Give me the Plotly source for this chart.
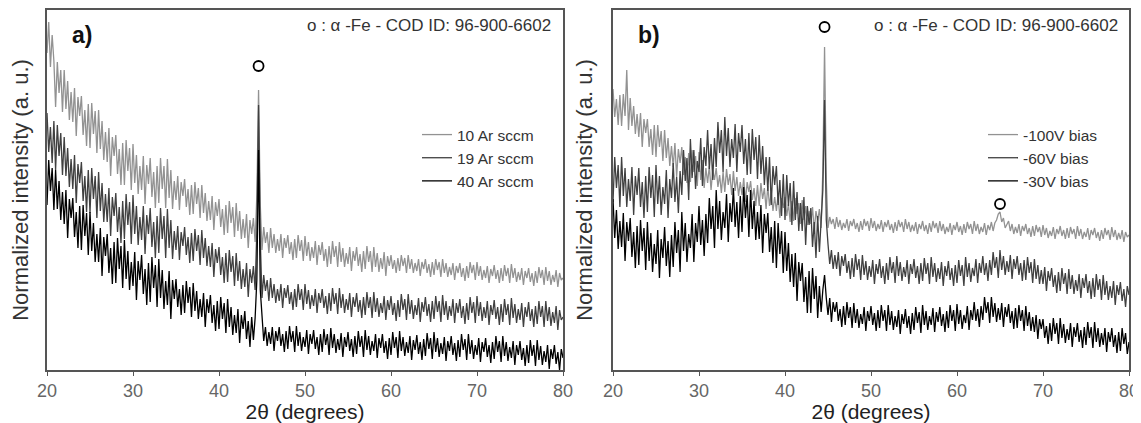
import plotly.graph_objects as go

# Scan positions: 2-theta in degrees, 0.2 deg steps from 20 to 80
two_theta = [round(20 + 0.2 * i, 1) for i in range(301)]

# ---------- Panel a: Ar flow series (normalized intensity, arbitrary units) ----------
ar10 = [
    317, 348, 303, 335, 309, 263, 308, 277, 300, 258, 300, 261, 289, 250, 278,
    248, 282, 234, 273, 254, 274, 235, 260, 224, 266, 222, 267, 236, 259, 217,
    260, 221, 249, 210, 238, 208, 242, 194, 233, 214, 235, 196, 221, 185, 227,
    185, 230, 199, 222, 180, 226, 187, 215, 176, 204, 180, 214, 166, 205, 186,
    212, 173, 198, 162, 204, 167, 212, 181, 204, 162, 211, 172, 200, 161, 189,
    170, 194, 160, 188, 174, 191, 163, 181, 155, 185, 156, 188, 166, 182, 152,
    185, 157, 177, 149, 169, 150, 174, 140, 168, 154, 171, 143, 161, 135, 165,
    137, 169, 147, 163, 133, 167, 139, 159, 131, 151, 132, 156, 122, 150, 136,
    152, 128, 175, 280, 165, 120, 143, 127, 138, 117, 142, 122, 136, 117, 131,
    119, 136, 112, 132, 122, 135, 116, 128, 110, 131, 112, 135, 119, 130, 109,
    134, 114, 128, 109, 123, 112, 129, 105, 125, 115, 128, 109, 121, 103, 124,
    106, 129, 113, 124, 103, 128, 108, 122, 103, 117, 106, 123, 99, 119, 109,
    123, 104, 116, 98, 119, 101, 124, 108, 119, 98, 123, 103, 117, 98, 112,
    101, 118, 94, 114, 104, 115, 101, 110, 97, 112, 99, 115, 104, 112, 97,
    115, 101, 111, 97, 107, 99, 111, 94, 108, 101, 111, 97, 106, 93, 108,
    95, 111, 100, 108, 93, 111, 97, 107, 93, 103, 95, 107, 90, 104, 97,
    107, 93, 102, 89, 104, 92, 108, 97, 105, 90, 108, 94, 104, 90, 100,
    92, 104, 87, 101, 94, 105, 91, 100, 87, 102, 89, 105, 94, 102, 87,
    106, 92, 102, 88, 98, 90, 102, 85, 99, 92, 102, 88, 97, 84, 99,
    87, 103, 92, 100, 85, 103, 89, 99, 85, 95, 88, 100, 83, 97, 90,
    92,
]
ar19 = [
    257, 218, 243, 207, 249, 200, 245, 214, 237, 195, 233, 194, 222, 183, 211,
    181, 215, 167, 206, 187, 208, 169, 194, 158, 200, 157, 202, 171, 194, 152,
    198, 159, 187, 148, 176, 148, 182, 134, 173, 154, 177, 138, 163, 127, 169,
    131, 176, 145, 168, 126, 175, 136, 164, 125, 153, 130, 164, 116, 155, 136,
    162, 123, 148, 112, 154, 117, 162, 131, 154, 112, 161, 122, 150, 111, 139,
    120, 144, 110, 138, 124, 143, 115, 133, 107, 137, 109, 141, 119, 135, 105,
    140, 112, 132, 104, 124, 103, 127, 93, 121, 107, 123, 95, 113, 87, 117,
    88, 120, 98, 114, 84, 117, 89, 109, 81, 101, 83, 107, 73, 101, 87,
    104, 80, 140, 265, 130, 72, 95, 79, 90, 69, 92, 72, 86, 67, 81,
    69, 86, 62, 82, 72, 85, 66, 78, 60, 81, 63, 86, 70, 81, 60,
    86, 66, 80, 61, 75, 64, 81, 57, 77, 67, 81, 62, 74, 56, 77,
    59, 82, 66, 77, 56, 82, 62, 76, 57, 71, 60, 77, 53, 73, 63,
    77, 58, 70, 52, 73, 55, 78, 62, 73, 52, 78, 58, 72, 53, 67,
    57, 74, 50, 70, 60, 74, 55, 67, 49, 70, 53, 76, 60, 71, 50,
    76, 56, 70, 51, 65, 55, 72, 48, 68, 58, 73, 54, 66, 48, 69,
    51, 74, 58, 69, 48, 75, 55, 69, 50, 64, 54, 71, 47, 67, 57,
    71, 52, 64, 46, 67, 50, 73, 57, 68, 47, 74, 54, 68, 49, 63,
    52, 69, 45, 65, 55, 70, 51, 63, 45, 66, 48, 71, 55, 66, 45,
    72, 52, 66, 47, 61, 50, 67, 43, 63, 53, 68, 49, 61, 43, 64,
    46, 69, 53, 64, 43, 69, 49, 63, 44, 58, 47, 64, 40, 60, 50,
    53,
]
ar40 = [
    165, 210, 179, 202, 160, 200, 161, 189, 150, 178, 146, 180, 132, 171, 152,
    172, 133, 158, 122, 164, 120, 165, 134, 157, 115, 158, 119, 147, 108, 136,
    108, 142, 94, 133, 114, 136, 97, 122, 86, 128, 87, 132, 101, 124, 82,
    130, 91, 119, 80, 108, 84, 118, 70, 109, 90, 115, 76, 101, 65, 107,
    68, 113, 82, 105, 63, 111, 72, 100, 61, 89, 65, 99, 51, 90, 71,
    91, 63, 81, 55, 85, 57, 89, 67, 83, 53, 87, 59, 79, 51, 71,
    53, 77, 43, 71, 57, 75, 47, 65, 39, 69, 41, 73, 51, 67, 37,
    71, 43, 63, 35, 55, 37, 61, 27, 55, 41, 59, 31, 49, 23, 53,
    30, 52, 90, 220, 80, 49, 29, 43, 24, 38, 26, 43, 19, 39, 29,
    43, 24, 36, 18, 39, 21, 44, 28, 39, 18, 44, 24, 38, 19, 33,
    23, 40, 16, 36, 26, 40, 21, 33, 15, 36, 18, 41, 25, 36, 15,
    42, 22, 36, 17, 31, 20, 37, 13, 33, 23, 38, 19, 31, 13, 34,
    16, 39, 23, 34, 13, 40, 20, 34, 15, 29, 19, 36, 12, 32, 22,
    36, 17, 29, 11, 32, 15, 38, 22, 33, 12, 39, 19, 33, 14, 28,
    17, 34, 10, 30, 20, 35, 16, 28, 10, 31, 14, 37, 21, 32, 11,
    38, 18, 32, 13, 27, 16, 33, 9, 29, 19, 34, 15, 27, 9, 30,
    13, 36, 20, 31, 10, 36, 16, 30, 11, 25, 15, 32, 8, 28, 18,
    32, 13, 25, 7, 28, 11, 34, 18, 29, 8, 34, 14, 28, 9, 23,
    12, 29, 5, 25, 15, 29, 10, 22, 4, 25, 7, 30, 14, 25, 4,
    30, 10, 24, 5, 19, 8, 25, 1, 21, 11, 25, 6, 18, 0, 21,
    12,
]

# ---------- Panel b: substrate bias series ----------
bias100 = [
    281, 253, 271, 245, 275, 244, 276, 254, 300, 240, 272, 244, 264, 236, 256,
    233, 257, 223, 251, 237, 251, 223, 241, 215, 245, 213, 245, 223, 239, 209,
    240, 212, 232, 204, 224, 203, 227, 193, 221, 207, 223, 195, 213, 187, 217,
    188, 220, 198, 214, 184, 218, 190, 210, 182, 202, 187, 204, 180, 200, 190,
    202, 183, 195, 177, 198, 178, 201, 185, 196, 175, 199, 179, 193, 174, 188,
    175, 192, 168, 188, 178, 189, 170, 182, 164, 185, 164, 187, 171, 182, 161,
    184, 164, 178, 159, 173, 159, 176, 152, 172, 162, 173, 154, 166, 148, 169,
    149, 172, 156, 167, 146, 170, 150, 164, 145, 159, 146, 163, 139, 159, 149,
    161, 142, 200, 323, 190, 142, 153, 146, 151, 141, 153, 143, 150, 140, 147,
    142, 151, 139, 149, 144, 151, 141, 147, 138, 149, 140, 151, 144, 149, 139,
    152, 142, 149, 139, 146, 141, 150, 138, 148, 143, 150, 140, 146, 137, 148,
    139, 150, 143, 148, 138, 151, 141, 148, 138, 145, 139, 148, 136, 146, 141,
    149, 139, 145, 136, 147, 138, 149, 142, 147, 137, 149, 139, 146, 136, 143,
    138, 147, 135, 145, 140, 148, 138, 144, 135, 146, 137, 148, 141, 146, 136,
    149, 139, 146, 136, 143, 138, 147, 135, 145, 140, 148, 139, 147, 150, 156,
    158, 148, 152, 142, 146, 149, 139, 146, 136, 143, 137, 146, 134, 144, 139,
    146, 136, 142, 133, 144, 134, 145, 138, 143, 133, 145, 135, 142, 132, 139,
    134, 143, 131, 141, 136, 144, 134, 140, 131, 142, 132, 143, 136, 141, 131,
    144, 134, 141, 131, 138, 133, 142, 130, 140, 135, 142, 132, 138, 129, 140,
    131, 142, 135, 140, 130, 143, 133, 140, 130, 137, 131, 140, 128, 138, 133,
    135,
]
bias60 = [
    168, 213, 182, 205, 163, 213, 174, 202, 163, 191, 169, 203, 155, 194, 175,
    202, 163, 188, 152, 194, 158, 203, 172, 195, 153, 205, 166, 194, 155, 183,
    166, 200, 152, 191, 172, 207, 168, 193, 157, 199, 175, 220, 189, 212, 170,
    231, 192, 220, 181, 209, 198, 232, 184, 223, 204, 240, 201, 226, 190, 232,
    203, 248, 217, 240, 198, 253, 214, 242, 203, 231, 212, 246, 198, 237, 218,
    245, 206, 231, 195, 237, 196, 241, 210, 233, 191, 235, 196, 224, 185, 213,
    179, 213, 165, 204, 185, 204, 165, 190, 154, 196, 150, 195, 164, 187, 145,
    189, 150, 178, 139, 167, 139, 173, 125, 164, 145, 162, 123, 148, 112, 154,
    118, 150, 180, 270, 150, 126, 106, 120, 101, 115, 101, 118, 94, 114, 104,
    116, 97, 109, 91, 112, 93, 116, 100, 111, 90, 115, 95, 109, 90, 104,
    93, 110, 86, 106, 96, 111, 92, 104, 86, 107, 90, 113, 97, 108, 87,
    114, 94, 108, 89, 103, 93, 110, 86, 106, 96, 111, 92, 104, 86, 107,
    89, 112, 96, 107, 86, 113, 93, 107, 88, 102, 91, 108, 84, 104, 94,
    109, 90, 102, 84, 105, 87, 110, 94, 105, 84, 113, 93, 107, 88, 102,
    94, 111, 87, 107, 97, 114, 95, 107, 89, 110, 95, 118, 102, 113, 92,
    120, 100, 114, 95, 109, 98, 115, 91, 111, 101, 114, 95, 107, 89, 110,
    90, 113, 97, 108, 87, 111, 91, 105, 86, 100, 86, 103, 79, 99, 89,
    102, 83, 95, 77, 98, 79, 102, 86, 97, 76, 101, 81, 95, 76, 90,
    79, 96, 72, 92, 82, 96, 77, 89, 71, 92, 73, 96, 80, 91, 70,
    95, 75, 89, 70, 84, 72, 89, 65, 85, 75, 88, 69, 81, 63, 84,
    75,
]
bias30 = [
    171, 132, 160, 121, 149, 123, 157, 109, 148, 129, 152, 113, 138, 102, 144,
    105, 150, 119, 142, 100, 148, 109, 137, 98, 126, 106, 140, 92, 131, 112,
    143, 104, 129, 93, 135, 103, 148, 117, 140, 98, 158, 119, 147, 108, 136,
    122, 156, 108, 147, 128, 164, 125, 150, 114, 156, 127, 172, 141, 164, 122,
    180, 141, 169, 130, 158, 142, 176, 128, 167, 148, 182, 143, 168, 132, 174,
    138, 183, 152, 175, 133, 180, 141, 169, 130, 158, 131, 165, 117, 156, 137,
    157, 118, 143, 107, 149, 102, 147, 116, 139, 97, 138, 99, 127, 88, 116,
    83, 117, 69, 108, 89, 107, 68, 93, 57, 99, 57, 102, 71, 94, 52,
    84, 58, 80, 95, 72, 55, 72, 48, 68, 58, 68, 49, 61, 43, 64,
    45, 68, 52, 63, 42, 67, 47, 61, 42, 56, 46, 63, 39, 59, 49,
    64, 45, 57, 39, 60, 42, 65, 49, 60, 39, 65, 45, 59, 40, 54,
    43, 60, 36, 56, 46, 61, 42, 54, 36, 57, 40, 63, 47, 58, 37,
    65, 45, 59, 40, 54, 45, 62, 38, 58, 48, 63, 44, 56, 38, 59,
    42, 65, 49, 60, 39, 66, 46, 60, 41, 55, 47, 64, 40, 60, 50,
    68, 49, 61, 43, 64, 50, 73, 57, 68, 47, 73, 53, 67, 48, 62,
    50, 67, 43, 63, 53, 66, 47, 59, 41, 62, 42, 65, 49, 60, 39,
    64, 44, 58, 39, 53, 38, 55, 31, 51, 41, 51, 32, 44, 26, 47,
    29, 52, 36, 47, 26, 52, 32, 46, 27, 41, 30, 47, 23, 43, 33,
    47, 28, 40, 22, 43, 25, 48, 32, 43, 22, 48, 28, 42, 23, 37,
    25, 42, 18, 38, 28, 42, 23, 35, 17, 38, 19, 42, 26, 37, 16,
    28,
]

names_a = ["10 Ar sccm", "19 Ar sccm", "40 Ar sccm"]
names_b = ["-100V bias", "-60V bias", "-30V bias"]
colors = ["#929292", "#404040", "#000000"]

# alpha-Fe reflection markers (2theta, height)
fe_a_x, fe_a_y = [44.6], [304]
fe_b_x, fe_b_y = [44.6, 65.0], [343, 166]

for s in (ar10, ar19, ar40, bias100, bias60, bias30):
    assert len(s) == len(two_theta), len(s)

fig = go.Figure()
for name, ys, c in zip(names_a, [ar10, ar19, ar40], colors):
    fig.add_trace(go.Scatter(x=two_theta, y=ys, mode="lines", name=name,
                             line=dict(color=c, width=1.3), xaxis="x", yaxis="y",
                             legend="legend"))
for name, ys, c in zip(names_b, [bias100, bias60, bias30], colors):
    fig.add_trace(go.Scatter(x=two_theta, y=ys, mode="lines", name=name,
                             line=dict(color=c, width=1.3), xaxis="x2", yaxis="y2",
                             legend="legend2"))

fig.add_trace(go.Scatter(x=fe_a_x, y=fe_a_y, mode="markers", showlegend=False,
                         marker=dict(symbol="circle-open", size=10, color="#000",
                                     line=dict(width=1.8)), xaxis="x", yaxis="y"))
fig.add_trace(go.Scatter(x=fe_b_x, y=fe_b_y, mode="markers", showlegend=False,
                         marker=dict(symbol="circle-open", size=10, color="#000",
                                     line=dict(width=1.8)), xaxis="x2", yaxis="y2"))

font_family = "Arial, Liberation Sans, sans-serif"
xcommon = dict(range=[20, 80], tickmode="linear", tick0=20, dtick=10, automargin=False,
               showline=True, linecolor="#555", linewidth=1.5, mirror=True,
               ticks="outside", ticklen=4, tickcolor="#555",
               tickfont=dict(size=18, color="#666"), showgrid=False, zeroline=False,
               title=dict(text="2θ (degrees)", font=dict(size=21, color="#222"), standoff=8))
ycommon = dict(range=[0, 360], showline=True, linecolor="#555", linewidth=1.5, mirror=True,
               showticklabels=False, ticks="", showgrid=False, zeroline=False, automargin=False,
               title=dict(text="Normalized intensity (a. u.)",
                          font=dict(size=22, color="#333"), standoff=13))

# page body adds an 8 px offset, so the figure is drawn 8 px smaller
W, H = 1133, 415
leg_common = dict(xanchor="left", yanchor="top", bgcolor="rgba(0,0,0,0)",
                  font=dict(size=15.5, color="#333"), itemwidth=30, tracegroupgap=0)
fig.update_layout(
    width=W, height=H,
    margin=dict(l=39, r=12, t=2, b=53, autoexpand=False),
    paper_bgcolor="white", plot_bgcolor="white",
    font=dict(family=font_family, color="#333"),
    xaxis=dict(domain=[0, 516 / 1082], anchor="y", **xcommon),
    yaxis=dict(domain=[0, 1], anchor="x", **ycommon),
    xaxis2=dict(domain=[566 / 1082, 1], anchor="y2", **xcommon),
    yaxis2=dict(domain=[0, 1], anchor="x2", **ycommon),
    legend=dict(x=(417 - 47) / 1082, y=(370 - 118) / 360, **leg_common),
    legend2=dict(x=(983 - 47) / 1082, y=(370 - 118) / 360, **leg_common),
    showlegend=True,
    annotations=[
        dict(text="<b>a)</b>", xref="x domain", yref="y domain", x=0.068, y=0.93,
             xanchor="center", yanchor="middle", showarrow=False,
             font=dict(size=23, color="#111")),
        dict(text="<b>b)</b>", xref="x2 domain", yref="y2 domain", x=0.07, y=0.93,
             xanchor="center", yanchor="middle", showarrow=False,
             font=dict(size=23, color="#111")),
        dict(text="o : α -Fe - COD ID: 96-900-6602", xref="x domain", yref="y domain",
             x=0.981, y=0.958, xanchor="right", yanchor="middle", showarrow=False,
             font=dict(size=17, color="#333")),
        dict(text="o : α -Fe - COD ID: 96-900-6602", xref="x2 domain", yref="y2 domain",
             x=0.983, y=0.958, xanchor="right", yanchor="middle", showarrow=False,
             font=dict(size=17, color="#333")),
    ],
)

fig.write_html("out.html")
